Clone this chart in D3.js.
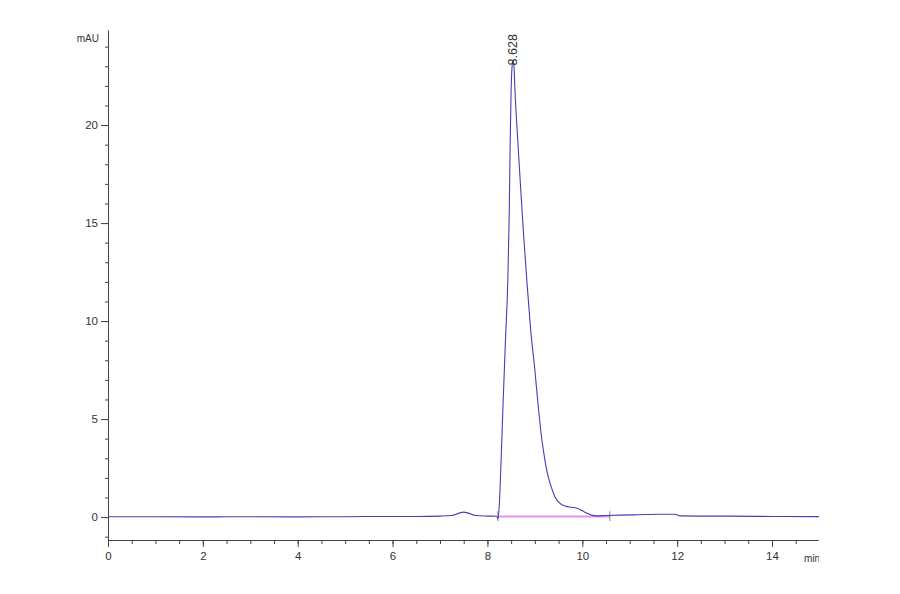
<!DOCTYPE html>
<html>
<head>
<meta charset="utf-8">
<script src="https://cdn.jsdelivr.net/npm/d3@7"></script>
<style>
  body { margin: 0; background: #fff; }
  svg { display: block; font-family: "Liberation Sans", Arial, sans-serif; }
</style>
</head>
<body>
<div id="plotDiv"></div>
<script>
// --- data ---
const times = [0, 1, 2, 3, 4, 5, 6, 6.5, 7, 7.25, 7.4, 7.5, 7.6, 7.75, 8.0, 8.2, 8.22,
  8.25, 8.29, 8.33, 8.38, 8.43, 8.46, 8.48, 8.5, 8.52, 8.54, 8.56, 8.58, 8.64, 8.7, 8.76,
  8.83, 8.91, 9.0, 9.07, 9.14, 9.2, 9.25, 9.3, 9.35, 9.43, 9.53, 9.65, 9.78, 9.89, 10.0,
  10.1, 10.2, 10.3, 10.5, 10.8, 11.2, 11.6, 11.95, 12.05, 12.5, 13, 14, 15];
const mAU = [0.02, 0.02, 0.01, 0.02, 0.01, 0.02, 0.03, 0.03, 0.05, 0.08, 0.2, 0.25, 0.2, 0.08, 0.05, 0.04, -0.1,
  0.6, 3.0, 5.8, 9.0, 12.1, 15.5, 19.2, 21.8, 23.0, 23.3, 23.0, 21.8, 19.2, 16.8, 14.5,
  12.1, 9.6, 7.5, 5.7, 4.1, 3.1, 2.4, 1.9, 1.5, 1.0, 0.7, 0.55, 0.5, 0.45, 0.32,
  0.2, 0.1, 0.06, 0.08, 0.1, 0.12, 0.14, 0.14, 0.06, 0.05, 0.05, 0.03, 0.02];

const peakTime = 8.54;
const peakValue = 23.3;
const peakLabel = "8.628";

const baselineTimes = [8.22, 10.58];   // integration baseline start / end
const baselineValues = [0.03, 0.03];

const xMajorTicks = [0, 2, 4, 6, 8, 10, 12, 14];
const yMajorTicks = [0, 5, 10, 15, 20];

const width = 900, height = 594;

const svg = d3.select("#plotDiv")
  .append("svg")
  .attr("width", width)
  .attr("height", height);

// the original image is cut at the right edge of the axis
svg.append("clipPath").attr("id", "cut")
  .append("rect").attr("x", 0).attr("y", 0).attr("width", 819).attr("height", height);

const g = svg.append("g").attr("clip-path", "url(#cut)");

// --- scales ---
const x = d3.scaleLinear().domain([0, 14.97]).range([108, 818]);
const y = d3.scaleLinear().domain([-1.17, 24.85]).range([540, 30]);

// --- axes ---
const xMinor = d3.range(0, 15, 0.5);
g.append("g")
  .attr("transform", `translate(0,${y.range()[0]})`)
  .call(d3.axisBottom(x).tickValues(xMinor).tickSize(4).tickFormat("").tickSizeOuter(0));
g.append("g")
  .attr("transform", `translate(0,${y.range()[0]})`)
  .call(d3.axisBottom(x).tickValues(xMajorTicks).tickSize(7).tickPadding(5).tickFormat(d3.format("d")).tickSizeOuter(0));

const yMinor = d3.range(-1, 25, 1);
g.append("g")
  .attr("transform", `translate(${x.range()[0]},0)`)
  .call(d3.axisLeft(y).tickValues(yMinor).tickSize(3).tickFormat("").tickSizeOuter(0));
g.append("g")
  .attr("transform", `translate(${x.range()[0]},0)`)
  .call(d3.axisLeft(y).tickValues(yMajorTicks).tickSize(7).tickPadding(3).tickFormat(d3.format("d")).tickSizeOuter(0));

g.selectAll(".domain").attr("stroke", "#444");
g.selectAll(".tick line").attr("stroke", "#444");
g.selectAll(".tick text")
  .attr("fill", "#333")
  .style("font-size", "11.5px");

// unit labels
g.append("text")
  .attr("x", 99).attr("y", 42)
  .attr("text-anchor", "end")
  .attr("fill", "#333")
  .style("font-size", "10px")
  .text("mAU");

g.append("text")
  .attr("x", 804).attr("y", 562)
  .attr("fill", "#333")
  .style("font-size", "10px")
  .text("min");

// --- integration baseline ---
g.append("line")
  .attr("x1", x(baselineTimes[0])).attr("x2", x(baselineTimes[1]))
  .attr("y1", y(baselineValues[0])).attr("y2", y(baselineValues[1]))
  .attr("stroke", "#e890e8")
  .attr("stroke-width", 1.8);

g.selectAll(".bmark")
  .data(baselineTimes)
  .enter()
  .append("line")
  .attr("class", "bmark")
  .attr("x1", d => x(d)).attr("x2", d => x(d))
  .attr("y1", y(0.3)).attr("y2", y(-0.2))
  .attr("stroke", "#666")
  .attr("stroke-width", 0.8);

// --- signal trace ---
const line = d3.line()
  .x((d, i) => x(times[i]))
  .y(d => y(d))
  .curve(d3.curveMonotoneX);

g.append("path")
  .datum(mAU)
  .attr("d", line)
  .attr("fill", "none")
  .attr("stroke", "#4040b8")
  .attr("stroke-width", 1.1);

// --- peak label ---
g.append("text")
  .attr("transform", `translate(${x(peakTime)},${y(peakValue) + 5}) rotate(-90)`)
  .attr("dy", "0.35em")
  .attr("fill", "#333")
  .style("font-size", "12.5px")
  .text(peakLabel);
</script>
</body>
</html>
